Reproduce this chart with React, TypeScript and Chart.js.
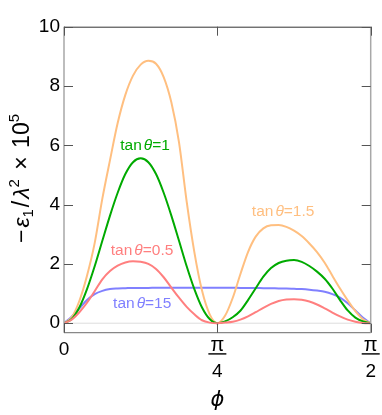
import React, { useEffect, useRef } from 'react';
import { Chart, registerables } from 'chart.js';

Chart.register(...registerables);

// φ in degrees (0 … 90 = π/2)
const PHI_DEG = [
  0, 2.25, 4.5, 6.75, 9, 11.25, 13.5, 15.75, 18, 20.25, 22.5, 24.75, 27, 29.25, 31.5, 33.75, 36, 38.25, 40.5, 42.75,
  45, 47.25, 49.5, 51.75, 54, 56.25, 58.5, 60.75, 63, 65.25, 67.5, 69.75, 72, 74.25, 76.5, 78.75, 81, 83.25, 85.5, 87.75, 90,
];

// −ε1/λ² × 10^5 for each tanθ
const TAN_0_5 = [
  0, 0.12, 0.37, 0.69, 1.08, 1.48, 1.76, 1.94, 2.05, 2.09, 2.07, 2.0, 1.83, 1.55, 1.2, 0.86, 0.55, 0.3, 0.1, 0.02,
  0, 0.02, 0.05, 0.12, 0.23, 0.37, 0.52, 0.65, 0.75, 0.8, 0.81, 0.79, 0.73, 0.63, 0.5, 0.36, 0.23, 0.12, 0.05, 0.01, 0,
];
const TAN_1 = [
  0, 0.14, 0.53, 1.15, 1.92, 2.78, 3.63, 4.4, 5.03, 5.43, 5.56, 5.43, 5.03, 4.4, 3.63, 2.78, 1.92, 1.15, 0.53, 0.14,
  0, 0.06, 0.2, 0.42, 0.78, 1.18, 1.57, 1.86, 2.03, 2.11, 2.13, 2.07, 1.93, 1.74, 1.5, 1.17, 0.78, 0.43, 0.19, 0.06, 0,
];
const TAN_1_5 = [
  0, 0.2, 0.75, 1.6, 2.7, 4.2, 5.5, 6.75, 7.7, 8.35, 8.72, 8.85, 8.75, 8.3, 7.45, 6.1, 4.1, 2.4, 1.1, 0.3,
  0, 0.25, 0.85, 1.65, 2.4, 2.92, 3.2, 3.3, 3.31, 3.25, 3.12, 2.94, 2.69, 2.4, 2.04, 1.6, 1.17, 0.77, 0.41, 0.13, 0,
];
const TAN_15 = [
  0, 0.22, 0.5, 0.78, 0.98, 1.09, 1.15, 1.17, 1.18, 1.19, 1.19, 1.19, 1.2, 1.2, 1.2, 1.2, 1.2, 1.2, 1.2, 1.2,
  1.2, 1.2, 1.2, 1.19, 1.19, 1.19, 1.18, 1.18, 1.17, 1.17, 1.16, 1.15, 1.13, 1.1, 1.06, 0.98, 0.86, 0.67, 0.43, 0.18, 0,
];

const SERIES_VALUES = [TAN_0_5, TAN_1, TAN_1_5, TAN_15];
const SERIES_TAN = ['0.5', '1', '1.5', '15'];
const SERIES_COLORS = ['#ff7f7f', '#00aa00', '#ffbf80', '#8080ff'];
const SERIES_ORDER = [0, 1, 2, 3];

// in-plot label anchors (φ in degrees, value)
const LABEL_PHI = [22.9, 23.8, 64.3, 22.95];
const LABEL_VAL = [2.44, 5.98, 3.77, 0.65];

const Y_TICKS = [0, 2, 4, 6, 8, 10];
const X_TICKS = [0, 45, 90];
const X_TICK_DEN = ['', '4', '2'];

const FONT = '"Liberation Sans", Arial, sans-serif';

const decorPlugin = {
  id: 'decor',
  beforeDatasetsDraw(chart: any) {
    const { ctx, chartArea } = chart;
    const y = chart.scales.y;
    const y0 = y.getPixelForValue(0);
    ctx.save();
    ctx.strokeStyle = '#dddddd';
    ctx.lineWidth = 1;
    ctx.beginPath();
    ctx.moveTo(chartArea.left, y0);
    ctx.lineTo(chartArea.right, y0);
    ctx.stroke();
    ctx.restore();
  },
  afterDraw(chart: any) {
    const { ctx, chartArea } = chart;
    const xs = chart.scales.x;
    const ys = chart.scales.y;
    const { left, right, top, bottom } = chartArea;
    ctx.save();

    // frame
    ctx.lineWidth = 1.5;
    ctx.strokeStyle = '#a8a8a8';
    ctx.beginPath();
    ctx.moveTo(left, top);
    ctx.lineTo(left, bottom);
    ctx.moveTo(right, top);
    ctx.lineTo(right, bottom);
    ctx.stroke();
    ctx.strokeStyle = '#888888';
    ctx.lineWidth = 1.2;
    ctx.beginPath();
    ctx.moveTo(left, bottom);
    ctx.lineTo(right, bottom);
    ctx.stroke();
    ctx.strokeStyle = '#333333';
    ctx.lineWidth = 1;
    ctx.beginPath();
    ctx.moveTo(left, top + 0.5);
    ctx.lineTo(right, top + 0.5);
    ctx.stroke();

    // inward ticks
    ctx.strokeStyle = '#555555';
    ctx.lineWidth = 1;
    ctx.beginPath();
    Y_TICKS.forEach((v) => {
      const py = Math.round(ys.getPixelForValue(v)) + 0.5;
      ctx.moveTo(left, py);
      ctx.lineTo(left + 9, py);
      ctx.moveTo(right, py);
      ctx.lineTo(right - 9, py);
    });
    X_TICKS.forEach((v) => {
      const px = Math.round(xs.getPixelForValue(v)) + 0.5;
      ctx.moveTo(px, bottom);
      ctx.lineTo(px, bottom - 9);
      ctx.moveTo(px, top);
      ctx.lineTo(px, top + 9);
    });
    ctx.stroke();

    // x tick labels
    ctx.fillStyle = '#000';
    ctx.textAlign = 'center';
    ctx.textBaseline = 'alphabetic';
    X_TICKS.forEach((v, i) => {
      const px = xs.getPixelForValue(v);
      if (!X_TICK_DEN[i]) {
        ctx.font = `19px ${FONT}`;
        ctx.fillText('0', px, bottom + 22.5);
      } else {
        ctx.font = `20px ${FONT}`;
        ctx.fillText('π', px, bottom + 18.5);
        ctx.fillRect(px - 9, bottom + 20.5, 18, 1.4);
        ctx.font = `19px ${FONT}`;
        ctx.fillText(X_TICK_DEN[i], px, bottom + 44.5);
      }
    });

    // x title
    ctx.font = `italic 21px "DejaVu Sans", ${FONT}`;
    ctx.fillText('ϕ', xs.getPixelForValue(45), 406);

    // series labels
    const base = `15.5px ${FONT}`;
    const ital = `italic 15.5px ${FONT}`;
    ctx.textAlign = 'left';
    ctx.textBaseline = 'middle';
    SERIES_TAN.forEach((t, i) => {
      const parts = [
        { s: 'tan', f: base, gap: 2 },
        { s: 'θ', f: ital, gap: 0 },
        { s: '=' + t, f: base, gap: 0 },
      ];
      let w = 0;
      parts.forEach((p) => {
        ctx.font = p.f;
        w += ctx.measureText(p.s).width + p.gap;
      });
      let cx = xs.getPixelForValue(LABEL_PHI[i]) - w / 2;
      const cy = ys.getPixelForValue(LABEL_VAL[i]);
      ctx.fillStyle = SERIES_COLORS[i];
      parts.forEach((p) => {
        ctx.font = p.f;
        ctx.fillText(p.s, cx, cy);
        cx += ctx.measureText(p.s).width + p.gap;
      });
    });

    // y title (rotated)
    ctx.fillStyle = '#000';
    ctx.translate(29, 178.5);
    ctx.rotate(-Math.PI / 2);
    ctx.textBaseline = 'alphabetic';
    const big = `23px ${FONT}`;
    const bigI = `italic 23px ${FONT}`;
    const small = `15px ${FONT}`;
    const tparts = [
      { s: '−', f: big, dy: 0, gap: 2 },
      { s: 'ε', f: bigI, dy: 0, gap: 0 },
      { s: '1', f: small, dy: 4, gap: 2 },
      { s: '/', f: big, dy: 0, gap: 2 },
      { s: 'λ', f: bigI, dy: 0, gap: 0 },
      { s: '2', f: small, dy: -10, gap: 3 },
      { s: ' × ', f: big, dy: 0, gap: 2 },
      { s: '10', f: big, dy: 0, gap: 0 },
      { s: '5', f: small, dy: -10, gap: 0 },
    ];
    let tw = 0;
    tparts.forEach((p) => {
      ctx.font = p.f;
      tw += ctx.measureText(p.s).width + p.gap;
    });
    let tx = -tw / 2;
    ctx.textAlign = 'left';
    tparts.forEach((p) => {
      ctx.font = p.f;
      ctx.fillText(p.s, tx, p.dy);
      tx += ctx.measureText(p.s).width + p.gap;
    });

    ctx.restore();
  },
};

export default function App() {
  const canvasRef = useRef<HTMLCanvasElement | null>(null);

  useEffect(() => {
    const canvas = canvasRef.current;
    if (!canvas) return;
    const chart = new Chart(canvas, {
      type: 'line',
      data: {
        datasets: SERIES_VALUES.map((vals, i) => ({
          label: 'tanθ=' + SERIES_TAN[i],
          data: PHI_DEG.map((p, j) => ({ x: p, y: vals[j] })),
          borderColor: SERIES_COLORS[i],
          backgroundColor: SERIES_COLORS[i],
          borderWidth: 2,
          pointRadius: 0,
          fill: false,
          cubicInterpolationMode: 'monotone',
          order: SERIES_ORDER[i],
        })),
      },
      options: {
        responsive: false,
        animation: false,
        devicePixelRatio: 1,
        layout: { padding: { left: 8, top: 26.7, right: 11.3, bottom: 82.3 } },
        plugins: { legend: { display: false }, tooltip: { enabled: false } },
        scales: {
          x: { type: 'linear', min: 0, max: 90, display: false },
          y: {
            type: 'linear',
            min: -0.32,
            max: 10,
            grid: { display: false, drawTicks: false },
            border: { display: false },
            ticks: { font: { family: FONT, size: 19 }, color: '#000', padding: 4 },
            afterBuildTicks: (s: any) => {
              s.ticks = Y_TICKS.map((v) => ({ value: v }));
            },
            afterFit: (s: any) => {
              s.width = 56;
            },
          },
        },
      } as any,
      plugins: [decorPlugin],
    });
    return () => chart.destroy();
  }, []);

  return (
    <div style={{ position: 'absolute', left: 0, top: 0, width: 382, height: 415 }}>
      <canvas ref={canvasRef} width={382} height={415} style={{ display: 'block' }} />
    </div>
  );
}
